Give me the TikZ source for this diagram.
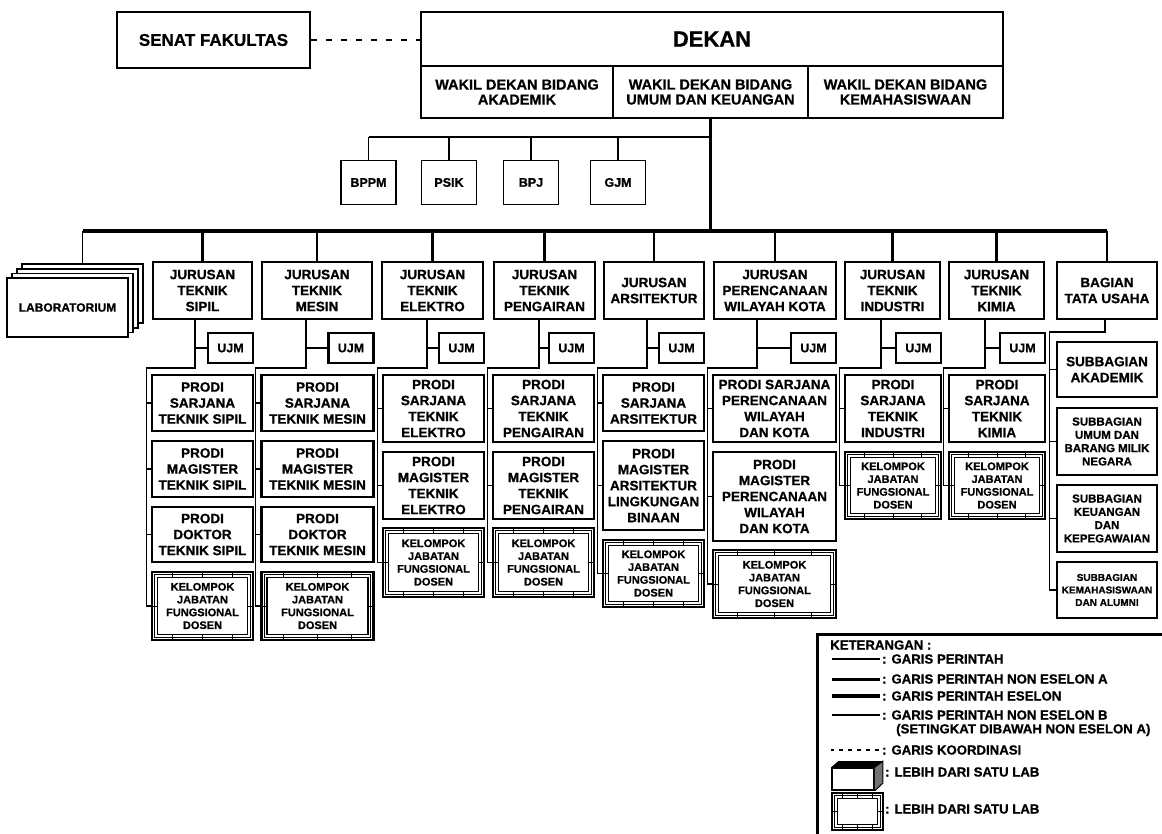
\documentclass[tikz,border=0pt]{standalone}
\usepackage{fontspec}
\setmainfont{Liberation Sans}[BoldFeatures={FakeBold=0.8}]
\usetikzlibrary{calc}

\newcommand\jurfont{\bfseries\fontsize{13.5}{16}\selectfont}
\newcommand\kjffont{\bfseries\fontsize{11}{12.8}\selectfont}
\newcommand\legfont{\bfseries\fontsize{13.2}{14}\selectfont}

\tikzset{
  box/.style={draw, line width=1.8, align=center, inner sep=1, fill=white, font=\jurfont},
  wd/.style={box, minimum height=52, font=\bfseries\fontsize{14.5}{15}\selectfont},
  jur/.style={box, line width=2, minimum height=57},
  prodi/.style={box, line width=2.8},
  sub/.style={box, line width=2.4},
  ujm/.style={box, line width=2.8, minimum width=45, minimum height=30,
    font=\bfseries\fontsize{12.5}{14}\selectfont},
  staf/.style={box, minimum width=55, minimum height=44,
    font=\bfseries\fontsize{12.5}{14}\selectfont},
  kjf/.style={box, line width=2.4, font=\kjffont,
    path picture={
      \path (path picture bounding box.north west) coordinate (kA)
            (path picture bounding box.south east) coordinate (kB);
      \draw[line width=0.7] ($(kA)+(2.8,2.8)$) rectangle ($(kB)+(-2.8,-2.8)$);
      \draw[line width=1.6] ($(kA)+(5.6,5.6)$) rectangle ($(kB)+(-5.6,-5.6)$);
      \foreach \t in {0.2,0.5,0.8}
        \draw[line width=1] ($(kA)!\t!(kA -| kB)$) -- ++(0,6)
          ($(kA |- kB)!\t!(kB)$) -- ++(0,-6);
      \draw[line width=1] ($(kA)!0.5!(kA |- kB)$) -- ++(6,0)
        ($(kA -| kB)!0.5!(kB)$) -- ++(-6,0);
    }},
  legtext/.style={inner sep=0, anchor=west, font=\legfont},
  cmd/.style={line width=1.1},
  eselon/.style={line width=3.2},
  koord/.style={line width=2.2, dash pattern=on 6pt off 9pt},
}

\begin{document}
\begin{tikzpicture}[x=1pt,y=-1pt]
\useasboundingbox (0,0) rectangle (1162,834);
\fill[white] (0,0) rectangle (1162,834);

\node[box, minimum width=193, minimum height=56, font=\bfseries\fontsize{17}{20}\selectfont] (senat) at (213.5,40) {SENAT FAKULTAS};
\node[box, minimum width=582, minimum height=54, font=\bfseries\fontsize{22}{24}\selectfont] (dekan) at (712,39) {DEKAN};
\node[wd, minimum width=192] (wd1) at (517,92) {WAKIL DEKAN BIDANG\\AKADEMIK};
\node[wd, minimum width=195] (wd2) at (710.5,92) {WAKIL DEKAN BIDANG\\UMUM DAN KEUANGAN};
\node[wd, minimum width=195] (wd3) at (905.5,92) {WAKIL DEKAN BIDANG\\KEMAHASISWAAN};
\draw[koord] (senat.east) -- (senat.east -| dekan.west);

\coordinate (staf) at (0,137);
\coordinate (bus) at (0,231);
\coordinate (turn) at (0,368);
\coordinate (bturn) at (0,332);

\node[staf] (bppm) at (368.5,182.5) {BPPM};
\node[staf] (psik) at (449,182.5) {PSIK};
\node[staf] (bpj) at (531,182.5) {BPJ};
\node[staf] (gjm) at (618,182.5) {GJM};
\draw[cmd] (bppm.north |- staf) -- (wd2.south |- staf);
\foreach \s in {bppm,psik,bpj,gjm}
  \draw[cmd] (\s.north |- staf) -- (\s.north);
\draw[eselon] (wd2.south) -- (wd2.south |- bus);

\node[jur, minimum width=99] (sipil) at (202.5,290.5) {JURUSAN\\TEKNIK\\SIPIL};
\node[jur, minimum width=110] (mesin) at (317,290.5) {JURUSAN\\TEKNIK\\MESIN};
\node[jur, minimum width=101] (elektro) at (432.5,290.5) {JURUSAN\\TEKNIK\\ELEKTRO};
\node[jur, minimum width=101] (pengairan) at (544.5,290.5) {JURUSAN\\TEKNIK\\PENGAIRAN};
\node[jur, minimum width=100] (arsi) at (654,290.5) {JURUSAN\\ARSITEKTUR};
\node[jur, minimum width=122] (pwk) at (775,290.5) {JURUSAN\\PERENCANAAN\\WILAYAH KOTA};
\node[jur, minimum width=95] (industri) at (892.5,290.5) {JURUSAN\\TEKNIK\\INDUSTRI};
\node[jur, minimum width=95] (kimia) at (996.5,290.5) {JURUSAN\\TEKNIK\\KIMIA};
\node[jur, minimum width=100] (bagian) at (1107,290.5) {BAGIAN\\TATA USAHA};

\coordinate (labc) at (67.5,307.5);
\foreach \k in {3,2,1}
  \node[box, line width=1.5, minimum width=121, minimum height=59] (lab\k) at ($(labc)+(5*\k,-4.6*\k)$) {};
\node[box, line width=1.5, minimum width=121, minimum height=59, font=\bfseries\fontsize{12}{14}\selectfont] (lab) at (labc) {LABORATORIUM};

\draw[eselon] (lab3.north |- bus) -- (bagian.north |- bus);
\draw[cmd] (lab3.north |- bus) -- (lab3.north);
\foreach \j in {sipil,mesin,elektro,pengairan,arsi,pwk,industri,kimia}
  \draw[line width=2.6] (\j.north |- bus) -- (\j.north);
\draw[line width=1.6] (bagian.north |- bus) -- (bagian.north);

\node[ujm] (sipil-u) at (230.5,348) {UJM};
\node[ujm] (mesin-u) at (351,348) {UJM};
\node[ujm] (elektro-u) at (461.5,348) {UJM};
\node[ujm] (pengairan-u) at (571.5,348) {UJM};
\node[ujm] (arsi-u) at (681.5,348) {UJM};
\node[ujm] (pwk-u) at (813.5,348) {UJM};
\node[ujm] (industri-u) at (918.5,348) {UJM};
\node[ujm] (kimia-u) at (1022.5,348) {UJM};

\node[prodi, minimum width=101, minimum height=56] (sipil-1) at (202.5,403) {PRODI\\SARJANA\\TEKNIK SIPIL};
\node[prodi, minimum width=101, minimum height=56] (sipil-2) at (202.5,469) {PRODI\\MAGISTER\\TEKNIK SIPIL};
\node[prodi, minimum width=101, minimum height=55] (sipil-3) at (202.5,534.5) {PRODI\\DOKTOR\\TEKNIK SIPIL};
\node[kjf, minimum width=101, minimum height=68] (sipil-4) at (202.5,606) {KELOMPOK\\JABATAN\\FUNGSIONAL\\DOSEN};

\node[prodi, minimum width=112, minimum height=56] (mesin-1) at (317.5,403) {PRODI\\SARJANA\\TEKNIK MESIN};
\node[prodi, minimum width=112, minimum height=56] (mesin-2) at (317.5,469) {PRODI\\MAGISTER\\TEKNIK MESIN};
\node[prodi, minimum width=112, minimum height=55] (mesin-3) at (317.5,534.5) {PRODI\\DOKTOR\\TEKNIK MESIN};
\node[kjf, minimum width=112, minimum height=68] (mesin-4) at (317.5,606) {KELOMPOK\\JABATAN\\FUNGSIONAL\\DOSEN};

\node[prodi, minimum width=101, minimum height=67] (elektro-1) at (433.5,408.5) {PRODI\\SARJANA\\TEKNIK\\ELEKTRO};
\node[prodi, minimum width=101, minimum height=67] (elektro-2) at (433.5,485.5) {PRODI\\MAGISTER\\TEKNIK\\ELEKTRO};
\node[kjf, minimum width=101, minimum height=69] (elektro-3) at (433.5,562.5) {KELOMPOK\\JABATAN\\FUNGSIONAL\\DOSEN};

\node[prodi, minimum width=101, minimum height=67] (pengairan-1) at (543.5,408.5) {PRODI\\SARJANA\\TEKNIK\\PENGAIRAN};
\node[prodi, minimum width=101, minimum height=67] (pengairan-2) at (543.5,485.5) {PRODI\\MAGISTER\\TEKNIK\\PENGAIRAN};
\node[kjf, minimum width=101, minimum height=69] (pengairan-3) at (543.5,562.5) {KELOMPOK\\JABATAN\\FUNGSIONAL\\DOSEN};

\node[prodi, minimum width=101, minimum height=56] (arsi-1) at (653.5,403) {PRODI\\SARJANA\\ARSITEKTUR};
\node[prodi, minimum width=101, minimum height=89] (arsi-2) at (653.5,485.5) {PRODI\\MAGISTER\\ARSITEKTUR\\LINGKUNGAN\\BINAAN};
\node[kjf, minimum width=101, minimum height=67] (arsi-3) at (653.5,573.5) {KELOMPOK\\JABATAN\\FUNGSIONAL\\DOSEN};

\node[prodi, minimum width=123, minimum height=67] (pwk-1) at (774.5,408.5) {PRODI SARJANA\\PERENCANAAN\\WILAYAH\\DAN KOTA};
\node[prodi, minimum width=123, minimum height=89] (pwk-2) at (774.5,496.5) {PRODI\\MAGISTER\\PERENCANAAN\\WILAYAH\\DAN KOTA};
\node[kjf, minimum width=123, minimum height=68] (pwk-3) at (774.5,584) {KELOMPOK\\JABATAN\\FUNGSIONAL\\DOSEN};

\node[prodi, minimum width=96, minimum height=67] (industri-1) at (893,408.5) {PRODI\\SARJANA\\TEKNIK\\INDUSTRI};
\node[kjf, minimum width=96, minimum height=67] (industri-2) at (893,485.5) {KELOMPOK\\JABATAN\\FUNGSIONAL\\DOSEN};

\node[prodi, minimum width=96, minimum height=67] (kimia-1) at (997,408.5) {PRODI\\SARJANA\\TEKNIK\\KIMIA};
\node[kjf, minimum width=96, minimum height=67] (kimia-2) at (997,485.5) {KELOMPOK\\JABATAN\\FUNGSIONAL\\DOSEN};

\node[sub, minimum width=100, minimum height=55] (bagian-1) at (1107,369.5) {SUBBAGIAN\\AKADEMIK};
\node[sub, minimum width=100, minimum height=67, font=\bfseries\fontsize{11.5}{13.3}\selectfont] (bagian-2) at (1107,441.5) {SUBBAGIAN\\UMUM DAN\\BARANG MILIK\\NEGARA};
\node[sub, minimum width=100, minimum height=67, font=\bfseries\fontsize{11.5}{13.3}\selectfont] (bagian-3) at (1107,518.5) {SUBBAGIAN\\KEUANGAN\\DAN\\KEPEGAWAIAN};
\node[sub, minimum width=100, minimum height=56, font=\bfseries\fontsize{10}{12.5}\selectfont] (bagian-4) at (1107,590) {SUBBAGIAN\\KEMAHASISWAAN\\DAN ALUMNI};

\foreach \j/\dx/\nb in {sipil/-7.5/4, mesin/-11/4, elektro/-5.5/3, pengairan/-5.5/3,
    arsi/-7/3, pwk/-18/3, industri/-11.5/2, kimia/-11.5/2} {
  \draw[cmd] ($(\j.south)+(\dx,0)$) |- (\j-u.west);
  \draw[cmd] ($(\j.south)+(\dx,0)$) |- ($(\j-1.west |- turn)+(-4.5,0)$) |- (\j-\nb.west);
  \foreach \i in {1,...,\nb}
    \draw[cmd] ($(\j-\i.west)+(-4.5,0)$) -- (\j-\i.west);
}
\draw[cmd] ($(bagian.south)+(-2,0)$) |- ($(bagian-1.west |- bturn)+(-6,0)$) |- (bagian-4.west);
\foreach \i in {1,...,4}
  \draw[cmd] ($(bagian-\i.west)+(-6,0)$) -- (bagian-\i.west);

\draw[line width=3] (817,834) |- (1162,634);
\node[legtext] (ket) at (830,645) {KETERANGAN :};
\node[legtext] (g1) at (882,659) {: GARIS PERINTAH};
\node[legtext] (g2) at (882,679) {: GARIS PERINTAH NON ESELON A};
\node[legtext] (g3) at (882,696) {: GARIS PERINTAH ESELON};
\node[legtext] (g4) at (882,715) {: GARIS PERINTAH NON ESELON B};
\node[legtext] (g4b) at (896,730) {(SETINGKAT DIBAWAH NON ESELON A)};
\node[legtext] (g5) at (882,750) {: GARIS KOORDINASI};
\node[legtext] (g6) at (885,772) {: LEBIH DARI SATU LAB};
\node[legtext] (g7) at (885,809) {: LEBIH DARI SATU LAB};
\draw[cmd] ([xshift=-2]g1.west) -- ++(-48,0);
\draw[line width=3] ([xshift=-2]g2.west) -- ++(-48,0);
\draw[line width=3.5] ([xshift=-2]g3.west) -- ++(-48,0);
\draw[line width=1.3] ([xshift=-2]g4.west) -- ++(-48,0);
\draw[line width=2.5, dash pattern=on 4pt off 5pt] ([xshift=-3]g5.west) -- ++(-48,0);

\node[draw, line width=1.6, minimum width=42, minimum height=22, inner sep=0] (leg6) at (853,779) {};
\fill (leg6.north west) -- ++(7,-6) -- ($(leg6.north east)+(8,-6)$) -- (leg6.north east) -- cycle;
\fill[black!55] (leg6.north east) -- ++(8,-6) -- ++(0,22) -- (leg6.south east) -- cycle;
\draw[line width=1] (leg6.north east) -- ++(8,-6) -- ++(0,22) -- (leg6.south east);
\node[kjf, minimum width=51, minimum height=37] (leg7) at (857.5,811.5) {};
\end{tikzpicture}
\end{document}
